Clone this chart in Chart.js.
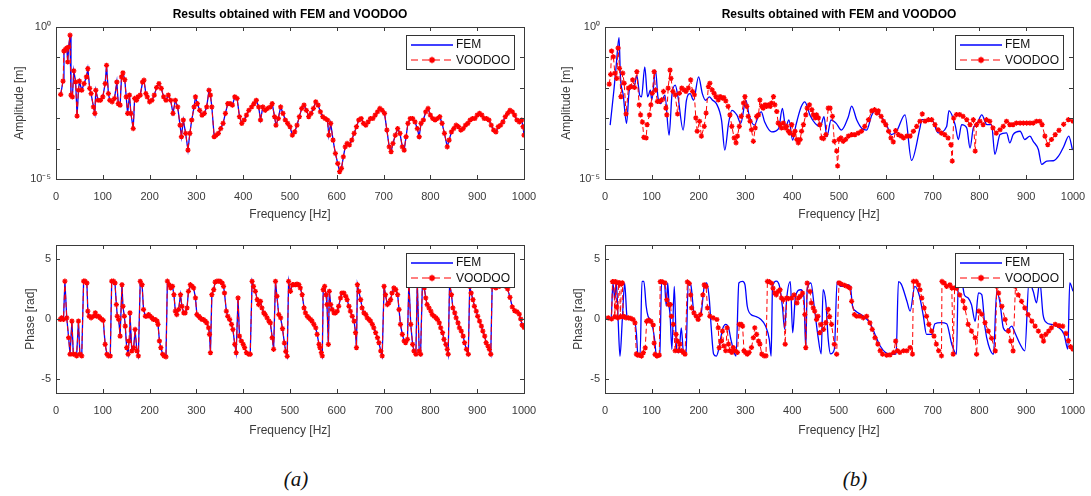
<!DOCTYPE html>
<html>
<head>
<meta charset="utf-8">
<script src="https://cdn.jsdelivr.net/npm/chart.js@4.4.0/dist/chart.umd.min.js"></script>
<style>
  body { margin: 0; background: #fff; width: 1091px; height: 496px; position: relative; overflow: hidden; }
  canvas { position: absolute; }
  .cap { position: absolute; top: 467px; width: 60px; margin-left: -30px; text-align: center;
         font: italic 21px "Liberation Serif", "DejaVu Serif", serif; color: #111; }
</style>
</head>
<body>
<canvas id="ampA" width="545" height="230" style="left:0;top:0"></canvas>
<canvas id="ampB" width="546" height="230" style="left:545px;top:0"></canvas>
<canvas id="phA" width="545" height="215" style="left:0;top:230px"></canvas>
<canvas id="phB" width="546" height="215" style="left:545px;top:230px"></canvas>
<div class="cap" style="left:296px">(a)</div>
<div class="cap" style="left:855px">(b)</div>
<script>
var chartTitle = 'Results obtained with FEM and VOODOO';
var freqTicks = [0, 100, 200, 300, 400, 500, 600, 700, 800, 900, 1000];
var ampTicks = [1e-5, 1e-4, 1e-3, 1e-2, 1e-1, 1];
var phaseTicks = [-5, 0, 5];

// (a) amplitude, log10 of metres (FEM and VOODOO overlap)
var ampFreqA = [10,15,17,20,23,25,27,30,32,35, 38,42,45,48,50,55,60,65,68,72,
  75,80,83,85,90,95,100,105,108,112, 115,120,125,130,133,137,140,143,147,150,
  153,157,160,165,168,172,175,180,185,188, 192,195,200,205,210,215,220,225,230,235,
  240,245,250,255,260,265,268,272,277,282, 286,290,295,298,302,307,312,317,322,327,
  330,333,338,342,347,352,357,362,367,372, 377,382,387,392,397,402,407,412,418,423,
  428,433,437,442,447,452,458,462,467,470, 475,480,485,490,495,500,505,510,515,520,
  525,530,535,540,545,550,555,560,565,570, 575,580,583,587,592,597,602,606,610,614,
  618,622,627,632,637,642,647,652,657,662, 667,672,677,682,687,692,697,702,707,712,
  716,720,725,730,735,740,744,748,752,757, 762,767,772,776,780,785,790,795,800,805,
  810,815,820,825,830,836,840,845,850,855, 860,865,870,875,880,885,890,895,900,905,
  910,915,920,925,930,935,940,945,950,955, 960,965,970,975,980,985,990,995,998,1000];
var ampLogA = [-2.22,-1.78,-0.79,-0.74,-0.69,-1.15,-0.66,-0.27,-2.24,-2.30,
  -1.44,-1.81,-2.93,-2.08,-1.78,-2.08,-1.86,-1.64,-1.37,-2.02,
  -2.19,-2.63,-2.84,-2.08,-2.41,-2.41,-2.30,-1.86,-1.26,-2.19,
  -2.41,-2.46,-2.35,-1.81,-2.52,-2.57,-1.64,-1.51,-1.73,-2.30,
  -2.84,-2.24,-2.84,-3.34,-2.35,-2.41,-2.30,-2.24,-1.81,-1.75,
  -2.19,-2.30,-2.46,-2.41,-2.24,-1.99,-1.86,-2.02,-2.30,-2.41,
  -2.24,-2.41,-2.84,-2.41,-2.63,-3.23,-3.61,-3.06,-3.50,-4.05,
  -3.50,-3.06,-2.63,-2.30,-2.52,-2.74,-2.90,-2.84,-2.63,-2.08,
  -2.24,-2.63,-3.61,-3.56,-3.50,-3.34,-3.17,-2.84,-2.52,-2.52,
  -2.57,-2.30,-2.35,-2.95,-3.17,-3.06,-2.90,-2.74,-2.63,-2.52,
  -2.41,-2.63,-3.06,-2.63,-2.74,-2.68,-2.63,-2.52,-2.95,-3.23,
  -3.01,-2.63,-2.84,-3.06,-3.17,-3.28,-3.56,-3.45,-3.23,-2.95,
  -2.68,-2.57,-2.74,-2.95,-2.84,-2.68,-2.46,-2.57,-2.79,-2.95,
  -3.01,-3.06,-3.56,-3.17,-3.72,-4.16,-4.49,-4.76,-4.65,-4.27,
  -3.94,-3.83,-3.88,-3.72,-3.50,-3.28,-3.06,-3.01,-3.17,-3.23,
  -3.12,-3.01,-3.01,-2.90,-2.79,-2.68,-2.74,-2.84,-3.39,-3.94,
  -4.10,-3.83,-3.56,-3.34,-3.50,-3.94,-4.05,-3.61,-3.17,-3.01,
  -3.01,-3.12,-3.34,-3.61,-3.17,-3.06,-2.79,-2.68,-2.90,-3.01,
  -3.06,-3.01,-2.95,-3.17,-3.50,-3.94,-3.72,-3.45,-3.34,-3.23,
  -3.28,-3.39,-3.34,-3.23,-3.17,-3.06,-3.01,-3.01,-2.90,-2.84,
  -2.90,-3.01,-3.01,-3.06,-3.23,-3.39,-3.45,-3.28,-3.23,-3.12,
  -2.95,-2.84,-2.74,-2.79,-2.90,-3.06,-3.12,-3.06,-3.28,-3.56];

// (a) phase, rad (FEM and VOODOO overlap)
var phFreqA = [9,12,16,19,23,27,30,34,37,41, 44,48,51,55,59,62,66,68,71,75,
  80,84,87,91,94,98,101,105,109,112, 116,119,123,126,129,131,134,137,141,143,
  146,148,151,154,156,158,162,166,169,173, 176,180,184,187,191,194,198,201,205,208,
  212,216,218,221,224,228,231,235,238,242, 245,249,252,255,258,262,266,269,273,276,
  280,283,287,291,294,298,301,305,308,312, 315,319,322,326,328,330,333,337,340,344,
  348,351,355,358,360,364,367,371,375,378, 382,385,389,392,396,400,403,407,412,415,
  419,422,426,430,433,437,440,444,447,451, 455,458,462,465,469,472,476,480,484,488,
  491,494,497,501,505,508,512,515,519,522, 526,530,533,537,540,544,547,551,555,558,
  562,564,567,569,571,574,577,579,582,584, 587,590,594,597,601,604,608,611,615,619,
  622,626,629,633,637,640,642,644,647,651, 654,658,662,665,669,672,676,679,683,687,
  690,694,697,701,704,708,711,715,718,722, 726,730,733,736,740,744,747,751,754,758,
  762,765,769,772,776,779,783,787,790,793, 797,801,804,808,812,815,819,822,826,829,
  833,836,838,841,845,848,852,855,859,862, 866,870,873,877,881,884,887,891,894,898,
  901,905,909,912,916,919,923,926,929,932, 936,940,947,954,961,965,970,975,980,985,
  990,993,996,1000];
var phaseA = [-0.04,0.1,-0.04,3.14,0.1,-1.56,-2.93,-0.18,-2.93,-2.93,
  -3.07,-0.18,-2.93,-3.07,3.14,3.14,2.99,0.65,0.23,0.1,
  0.23,0.51,0.23,0.23,0.1,-0.04,-0.12,-2.11,-2.93,-3.07,
  -3.07,3.14,3.14,2.99,1.2,0.23,-0.04,-1.42,2.85,1.06,
  0.23,-0.59,-2.38,-2.93,-1.83,0.51,-2.66,-2.38,-0.87,-2.66,
  -3.07,3.13,2.85,0.79,0.23,0.23,0.37,0.23,0.1,-0.04,
  -0.04,-0.18,-0.45,-1.83,-2.38,-2.93,-3.07,-3.14,3.14,2.85,
  2.58,2.71,2.02,0.65,0.37,0.79,2.02,1.06,0.51,0.51,
  0.92,2.3,2.85,2.71,2.58,1.75,0.37,0.23,0.1,-0.04,
  -0.04,-0.18,-0.32,-0.73,-1.28,-2.8,2.02,2.44,3.07,3.14,
  3.14,3.13,2.99,2.71,2.16,0.65,0.23,-0.04,-0.45,-0.87,
  -2.11,-2.8,1.75,-1.42,-1.83,-2.11,-2.38,-2.8,-2.93,-2.93,
  3.13,2.71,2.3,1.61,1.2,1.47,0.92,0.51,0.37,0.1,
  -0.18,-0.32,-1.56,-2.52,3.13,1.89,0.37,0.1,-0.8,-2.0,
  -2.7,-3.1,3.13,2.3,2.85,2.85,2.85,2.9,2.85,2.58,
  2.02,0.92,0.51,0.23,0.1,-0.04,-0.18,-0.45,-0.73,-1.28,
  -2.11,-2.38,-2.8,-3.07,2.44,2.71,2.02,1.2,-2.11,2.3,
  1.2,0.79,0.51,0.51,0.65,1.06,1.75,2.16,2.16,1.89,
  1.61,1.06,0.65,0.23,-0.18,-1.14,-2.38,2.85,2.3,1.61,
  0.92,0.51,0.37,0.1,-0.04,-0.18,-0.45,-0.73,-1.14,-1.56,
  -1.97,-2.66,-3.07,2.71,2.02,1.2,1.34,1.61,2.16,2.58,
  2.44,2.02,0.79,-0.45,-1.28,-1.83,-1.97,-1.69,3.13,-0.45,
  -2.11,-2.66,-2.93,3.13,-2.66,-2.93,3.13,2.58,1.75,1.2,
  0.92,0.65,0.37,0.23,0.1,-0.04,-0.32,-0.73,-1.14,-1.69,
  -2.11,-2.52,-2.93,2.99,2.02,0.92,0.51,0.1,-0.32,-0.73,
  -1.0,-1.42,-1.97,-2.52,-2.93,2.71,2.16,1.61,1.06,0.65,
  0.23,-0.18,-0.59,-1.0,-1.42,-1.97,-2.25,-2.52,-2.93,2.71,
  2.71,2.58,2.71,2.85,2.71,2.5,1.8,1.0,0.7,0.6,
  0.4,0.0,-0.5,-0.7];

// (b) FEM amplitude, log10 of metres
var femAmpFreqB = [11,19,24,30,33,39,46,52,63,68, 74,78,85,91,97,100,108,113,119,128,
  137,143,150,156,167,174,182,189,200,208, 215,223,230,238,249,256,264,271,282,290,
  301,308,319,330,334,341,356,371,379,386, 393,401,408,419,427,438,449,460,468,474,
  483,494,505,520,527,538,549,559,570,578, 590,600,612,623,641,655,673,677,698,712,
  730,735,748,755,762,773,780,787,794,805, 816,826,833,844,858,865,872,887,897,908,
  915,926,933,944,958,969,980,991,999];
var femAmpLogB = [-3.23,-2.08,-1.26,-0.35,-1.64,-2.24,-3.17,-2.08,-1.91,-1.59,
  -2.24,-2.30,-1.31,-2.30,-2.08,-2.41,-1.42,-2.30,-2.52,-2.24,
  -3.56,-2.24,-1.91,-2.30,-3.39,-2.41,-2.19,-2.41,-1.64,-2.19,
  -2.41,-2.30,-2.41,-2.52,-3.06,-4.05,-3.17,-2.74,-2.90,-3.17,
  -2.41,-2.90,-3.23,-2.84,-2.79,-3.12,-3.45,-3.34,-2.68,-3.28,
  -3.06,-3.72,-3.23,-2.63,-2.46,-2.90,-3.17,-3.28,-2.95,-3.61,
  -3.06,-3.17,-3.39,-2.95,-2.60,-3.06,-3.34,-3.39,-2.90,-2.75,
  -2.95,-3.15,-3.54,-3.43,-2.89,-4.39,-3.32,-3.05,-3.05,-3.48,
  -3.27,-2.75,-3.21,-3.70,-3.21,-3.32,-3.98,-3.32,-3.21,-2.89,
  -3.21,-3.21,-4.19,-3.54,-3.48,-3.81,-3.54,-3.43,-3.70,-3.59,
  -3.76,-4.03,-4.52,-4.41,-4.40,-4.25,-3.94,-3.59,-4.05];

// (b) VOODOO amplitude, log10 of metres
var vooAmpFreqB = [9,12,14,18,21,25,28,31,34,38, 41,45,50,55,59,63,68,73,76,80,
  83,88,90,95,98,101,105,108,112,116, 121,125,130,132,135,139,141,145,150,155,
  159,164,169,173,178,183,187,191,194,197, 202,206,212,216,221,224,229,233,237,242,
  246,251,254,258,263,267,271,276,280,283, 287,291,296,299,303,306,310,313,317,321,
  324,328,331,335,338,342,345,349,353,356, 360,363,367,370,374,377,381,385,388,392,
  395,399,403,406,410,413,417,420,424,429, 432,437,442,445,449,452,456,459,463,467,
  472,477,481,486,490,495,497,500,504,509, 514,520,527,534,541,548,555,563,570,576,
  581,584,590,595,600,606,611,616,621,627, 633,638,645,652,659,666,673,678,684,691,
  698,705,712,719,726,733,739,742,745,751, 758,765,773,780,787,791,794,801,808,815,
  822,829,836,844,851,858,865,872,879,887, 894,901,908,915,922,929,934,940,946,954,
  962,970,980,990,1000];
var vooAmpLogB = [-1.88,-1.56,-0.79,-0.98,-1.52,-1.69,-0.69,-1.36,-2.29,-1.52,
  -1.85,-2.86,-2.01,-1.96,-1.74,-1.99,-1.47,-2.56,-2.89,-3.13,
  -3.63,-3.65,-3.21,-2.89,-2.56,-2.18,-1.47,-2.07,-2.45,-2.45,
  -2.40,-2.12,-2.67,-2.89,-2.01,-1.42,-1.69,-2.12,-2.23,-2.86,
  -2.18,-2.01,-2.07,-2.12,-2.01,-1.74,-2.12,-2.23,-2.99,-3.43,
  -3.10,-3.59,-3.27,-2.83,-1.96,-1.85,-2.07,-2.18,-2.29,-2.40,
  -2.29,-2.34,-2.32,-2.43,-2.61,-2.89,-3.27,-3.65,-3.81,-3.59,
  -3.27,-2.94,-2.50,-2.29,-2.61,-2.94,-3.10,-3.38,-3.76,-3.32,
  -2.94,-2.89,-2.40,-2.61,-2.67,-2.56,-2.61,-2.56,-2.61,-2.50,
  -2.29,-2.56,-2.78,-3.16,-3.21,-3.32,-3.16,-3.32,-3.27,-3.43,
  -3.49,-3.21,-3.54,-3.43,-3.70,-3.81,-3.70,-3.43,-3.21,-2.89,
  -2.67,-2.56,-2.72,-2.89,-2.99,-2.89,-2.99,-3.21,-3.65,-3.67,
  -3.54,-2.67,-2.67,-2.94,-3.76,-4.08,-4.57,-3.70,-3.65,-3.76,
  -3.70,-3.59,-3.54,-3.54,-3.49,-3.43,-3.27,-3.05,-2.76,-2.72,
  -2.83,-2.76,-2.94,-3.10,-3.21,-3.43,-3.65,-3.78,-3.41,-3.54,
  -3.59,-3.65,-3.59,-3.59,-3.43,-3.27,-3.10,-2.86,-3.10,-3.05,
  -3.05,-3.21,-3.38,-3.49,-3.54,-3.65,-3.87,-4.41,-3.00,-2.88,
  -2.88,-2.94,-3.05,-3.21,-3.05,-4.08,-3.21,-3.10,-3.21,-3.05,
  -3.10,-3.32,-3.49,-3.38,-3.27,-3.10,-3.21,-3.21,-3.16,-3.16,
  -3.16,-3.16,-3.16,-3.16,-3.10,-3.10,-3.21,-3.59,-3.87,-3.70,
  -3.54,-3.40,-3.20,-3.05,-3.10];

// (b) FEM phase, rad
var femPhFreqB = [2,13,17,21,24,28,32,37,42,47, 54,62,67,70,75,79,83,88,92,99,
  106,110,117,121,127,131,134,137,139,143, 148,153,158,163,168,173,178,184,190,197,
  205,212,217,223,227,232,238,243,251,258, 264,269,277,280,286,294,299,304,312,321,
  332,343,351,355,358,366,373,379,384,388, 396,401,407,418,425,429,432,440,447,455,
  462,466,472,477,482,490,496,503,510,518, 524,529,536,547,559,566,577,588,600,614,
  622,627,633,645,652,662,672,680,687,698, 705,718,730,741,751,755,762,768,776,783,
  791,798,805,812,819,830,837,844,851,858, 869,876,887,897,906,915,922,929,936,944,
  954,970,981,989,993,1000];
var femPhaseB = [0,0,2.98,1.60,3.14,-0.04,-3.10,-0.04,2.98,0.23,
  0,0,-1.14,-2.85,-2.99,3.12,3.12,1.06,0.23,-0.18,
  -1.69,-3.10,-2.96,3.12,2.99,1.06,2.99,1.06,0.37,-2.52,
  2.71,-2.52,-2.80,-0.73,-2.90,-2.77,3.12,2.71,0.51,0.10,
  0.37,2.71,2.99,1.60,-0.73,-2.90,-3.08,-2.52,-0.87,-0.45,
  -0.73,-1.69,-2.90,-3.08,2.99,3.12,2.85,1.06,0.37,0.23,
  0,-0.59,-1.69,-3.08,2.71,3.14,2.71,1.06,-0.87,1.60,
  3.10,-1.14,1.88,2.43,1.88,-2.52,2.43,2.99,1.06,-1.42,
  -2.90,2.43,1.33,-1.69,-2.90,-2.52,3.12,2.71,2.71,2.85,
  2.71,1.06,0.65,0.37,0,-0.32,-1.28,-2.24,-2.80,-2.94,
  -2.90,3.10,2.90,1.50,0.65,2.71,1.90,0.30,-1.27,-1.27,
  -0.40,-0.30,-0.40,-2.10,-2.92,3.12,3.12,2.00,1.75,1.20,
  -0.20,2.17,2.03,-0.73,-2.10,-2.93,2.30,1.34,-0.73,-1.00,
  -0.60,-1.15,-2.10,-2.65,3.12,2.30,1.34,3.12,0.37,-0.32,
  -0.45,-0.73,-1.28,-2.50,3.00,2.30];

// (b) VOODOO phase, rad
var vooPhFreqB = [7,14,16,19,21,23,25,27,29,31, 33,35,37,39,41,45,50,55,60,64,
  67,70,74,78,82,86,89,93,98,103, 105,107,111,116,118,122,128,132,136,140,
  142,146,150,152,155,157,160,164,167,171, 176,180,183,185,190,195,199,204,209,212,
  216,219,224,231,239,242,244,248,251,254, 258,261,264,267,271,274,278,283,287,291,
  294,297,300,304,308,313,317,320,324,328, 331,335,340,344,347,351,356,359,363,366,
  370,374,377,381,385,388,392,399,404,410, 413,417,422,427,429,432,438,441,445,448,
  452,455,459,462,467,472,477,480,484,490, 495,500,505,512,518,523,527,533,538,545,
  552,559,566,571,577,583,588,593,602,609, 617,621,625,630,638,645,652,657,659,665,
  670,673,677,682,687,692,698,703,708,713, 719,720,725,730,737,741,744,747,751,758,
  765,769,776,783,791,794,799,805,812,819, 826,834,837,841,848,855,862,867,872,877,
  883,890,897,904,912,919,926,933,937,942, 948,954,962,970,978,985,990,995,1000];
var vooPhaseB = [0.1,0,3.1,3.1,0.2,3.1,1.0,0.1,3.0,3.0,
  0.2,2.9,3.0,0.2,0.2,0.1,0.1,0.05,-0.04,-0.32,
  -2.92,-3.0,-3.0,-3.08,-2.8,-2.4,-0.2,-0.1,-0.2,-0.5,
  -2.0,-2.95,-3.08,-3.0,3.1,3.1,3.0,1.6,1.2,1.2,
  0.23,-0.45,-2.64,-1.28,-1.84,-2.64,-2.09,-2.64,-2.78,-2.92,
  3.08,2.95,2.0,0.92,0.51,0.23,-0.04,0.37,2.0,2.84,
  2.71,0.92,0.23,0.1,-0.04,-0.73,-2.38,-1.84,-1.0,-2.24,
  -2.64,-0.73,-2.09,-2.64,-2.78,-2.37,-2.64,-2.78,-0.45,-0.45,
  -0.59,-2.64,-2.78,-2.92,-2.78,-2.37,-1.56,-0.73,-1.28,-1.84,
  -2.09,-2.92,-3.06,-3.06,3.12,3.1,2.97,2.56,2.15,2.01,
  2.29,2.43,1.74,1.6,-2.1,1.74,1.7,1.74,2.0,1.33,
  1.74,1.88,2.15,0.37,-2.38,2.98,2.29,1.33,0.92,0.65,
  -0.04,0.23,-1.14,-0.45,-0.87,-0.3,0.8,0.2,-0.45,-2.1,
  -2.93,3.0,2.9,2.8,2.7,2.58,1.47,0.37,0.23,0.23,
  0.1,0.23,-0.32,-0.87,-1.56,-2.09,-2.64,-2.92,-3.01,-2.98,
  -2.78,-1.84,-2.64,-2.78,-2.64,-2.64,-2.37,-2.92,3.12,3.12,
  2.84,2.43,1.74,0.92,0.23,-0.45,-1.0,-1.42,-2.09,-2.64,
  -3.06,3.12,2.98,2.71,2.84,2.6,-2.92,2.57,2.56,2.0,
  1.5,0.9,-0.45,-1.0,-1.56,-2.93,0.65,0.4,-0.3,-1.0,
  -1.6,-2.65,2.71,2.15,1.06,-0.04,-1.0,-1.84,-2.65,2.71,
  2.0,1.47,0.92,0.37,-0.18,-0.59,-1.0,-1.42,-1.84,-1.28,
  -1.0,-0.73,-0.45,-0.55,-0.6,-1.2,-1.8,-2.3,-2.5];

var femColor = '#0000ff';
var vooColor = '#ff0000';
var axisColor = '#3a3a3a';
Chart.defaults.font.family = '"Liberation Sans", Arial, sans-serif';

function pts(xs, ys, isLog) {
  return xs.map(function (x, i) { return { x: x, y: isLog ? Math.pow(10, ys[i]) : ys[i] }; });
}

// box, inward tick marks, title and legend drawn the MATLAB way
var matlabBox = {
  id: 'matlabBox',
  afterDraw: function (chart, args, opts) {
    var ctx = chart.ctx, a = chart.chartArea, sx = chart.scales.x, sy = chart.scales.y;
    ctx.save();
    ctx.strokeStyle = axisColor;
    ctx.lineWidth = 1;
    ctx.beginPath();
    sx.ticks.forEach(function (t) {
      var p = Math.round(sx.getPixelForValue(t.value)) + 0.5;
      ctx.moveTo(p, a.bottom); ctx.lineTo(p, a.bottom - 4);
      ctx.moveTo(p, a.top); ctx.lineTo(p, a.top + 4);
    });
    sy.ticks.forEach(function (t) {
      var p = Math.round(sy.getPixelForValue(t.value)) + 0.5;
      ctx.moveTo(a.left, p); ctx.lineTo(a.left + 4, p);
      ctx.moveTo(a.right, p); ctx.lineTo(a.right - 4, p);
    });
    ctx.stroke();
    ctx.strokeRect(Math.round(a.left) + 0.5, Math.round(a.top) + 0.5,
      Math.round(a.right - a.left), Math.round(a.bottom - a.top));

    if (opts.title) {
      ctx.fillStyle = '#000';
      ctx.font = 'bold 12px "Liberation Sans", Arial, sans-serif';
      ctx.textAlign = 'center';
      ctx.textBaseline = 'middle';
      ctx.fillText(opts.title, (a.left + a.right) / 2, a.top - 12);
    }

    // legend
    var w = 108, h = 34, x = Math.round(a.right) - 10 - w, y = Math.round(a.top) + 8;
    ctx.fillStyle = '#fff';
    ctx.fillRect(x, y, w, h);
    ctx.strokeStyle = '#333';
    ctx.strokeRect(x + 0.5, y + 0.5, w, h);
    ctx.lineWidth = 1.5;
    ctx.strokeStyle = femColor;
    ctx.beginPath(); ctx.moveTo(x + 5, y + 10); ctx.lineTo(x + 47, y + 10); ctx.stroke();
    ctx.lineWidth = 1.2;
    ctx.strokeStyle = vooColor;
    ctx.setLineDash([7, 4]);
    ctx.beginPath(); ctx.moveTo(x + 5, y + 25); ctx.lineTo(x + 47, y + 25); ctx.stroke();
    ctx.setLineDash([]);
    ctx.lineWidth = 1.5;
    Chart.helpers.drawPoint(ctx, { pointStyle: 'star', radius: 3.2, borderWidth: 1.5 }, x + 26, y + 25);
    ctx.fillStyle = '#111';
    ctx.font = '12px "Liberation Sans", Arial, sans-serif';
    ctx.textAlign = 'left';
    ctx.textBaseline = 'middle';
    ctx.fillText('FEM', x + 50, y + 10);
    ctx.fillText('VOODOO', x + 50, y + 25.5);
    ctx.restore();
  }
};

function makePlot(id, femData, vooData, kind, lay) {
  var isAmp = kind === 'amp';
  var yScale = isAmp ? {
    type: 'logarithmic', min: 1e-5, max: 1,
    afterBuildTicks: function (s) { s.ticks = ampTicks.map(function (v) { return { value: v }; }); },
    ticks: { callback: function (v) { return v === 1 ? '10\u2070' : (v === 1e-5 ? '10\u207B\u2075' : ''); } },
    title: { display: true, text: 'Amplitude [m]' }
  } : {
    type: 'linear', min: -6.15, max: 6.15,
    afterBuildTicks: function (s) { s.ticks = phaseTicks.map(function (v) { return { value: v }; }); },
    ticks: { callback: function (v) { return String(v); } },
    title: { display: true, text: 'Phase [rad]' }
  };
  yScale.ticks.color = axisColor;
  yScale.ticks.font = { size: 11 };
  yScale.ticks.padding = 5;
  yScale.grid = { display: false, drawTicks: false };
  yScale.border = { display: false };
  yScale.title.color = axisColor;
  yScale.title.font = { size: 12 };
  yScale.title.padding = { top: lay.yTitlePad, bottom: 0 };
  yScale.afterFit = function (s) { s.width = lay.yWidth; };

  return new Chart(document.getElementById(id), {
    type: 'line',
    data: {
      datasets: [
        {
          label: 'FEM', data: femData, borderColor: femColor, borderWidth: 1.3,
          pointRadius: 0, tension: 0, cubicInterpolationMode: lay.smooth ? 'monotone' : 'default', order: 2
        },
        {
          label: 'VOODOO', data: vooData, borderColor: vooColor, borderWidth: 1,
          borderDash: [5, 3], pointStyle: 'star', pointRadius: 2.6, pointBorderWidth: 1.3,
          pointBorderColor: vooColor, pointBackgroundColor: vooColor, tension: 0, order: 1
        }
      ]
    },
    options: {
      responsive: false,
      animation: false,
      devicePixelRatio: 1,
      layout: { padding: { top: lay.top, right: lay.right, left: 0, bottom: 0 } },
      plugins: {
        legend: { display: false },
        tooltip: { enabled: false },
        matlabBox: { title: lay.title }
      },
      scales: {
        x: {
          type: 'linear', min: 0, max: 1000,
          afterBuildTicks: function (s) { s.ticks = freqTicks.map(function (v) { return { value: v }; }); },
          ticks: { color: axisColor, font: { size: 11 }, padding: 11, maxRotation: 0, autoSkip: false,
                   callback: function (v) { return String(v); } },
          grid: { display: false, drawTicks: false },
          border: { display: false },
          title: { display: true, text: 'Frequency [Hz]', color: axisColor, font: { size: 12 },
                   padding: { top: 0, bottom: lay.xTitlePad } },
          afterFit: function (s) { s.height = lay.xHeight; s.paddingLeft = 0; s.paddingRight = 0; }
        },
        y: yScale
      }
    },
    plugins: [matlabBox]
  });
}

makePlot('ampA', pts(ampFreqA, ampLogA, true), pts(ampFreqA, ampLogA, true), 'amp',
  { top: 27, right: 21, yWidth: 56, xHeight: 51, yTitlePad: 12, xTitlePad: 8, title: chartTitle });
makePlot('ampB', pts(femAmpFreqB, femAmpLogB, true), pts(vooAmpFreqB, vooAmpLogB, true), 'amp',
  { top: 27, right: 18, yWidth: 60, xHeight: 51, yTitlePad: 14, xTitlePad: 8, title: chartTitle, smooth: true });
makePlot('phA', pts(phFreqA, phaseA, false), pts(phFreqA, phaseA, false), 'phase',
  { top: 15, right: 21, yWidth: 56, xHeight: 52, yTitlePad: 23, xTitlePad: 7 });
makePlot('phB', pts(femPhFreqB, femPhaseB, false), pts(vooPhFreqB, vooPhaseB, false), 'phase',
  { top: 15, right: 18, yWidth: 60, xHeight: 52, yTitlePad: 26, xTitlePad: 7, smooth: true });
</script>
</body>
</html>
